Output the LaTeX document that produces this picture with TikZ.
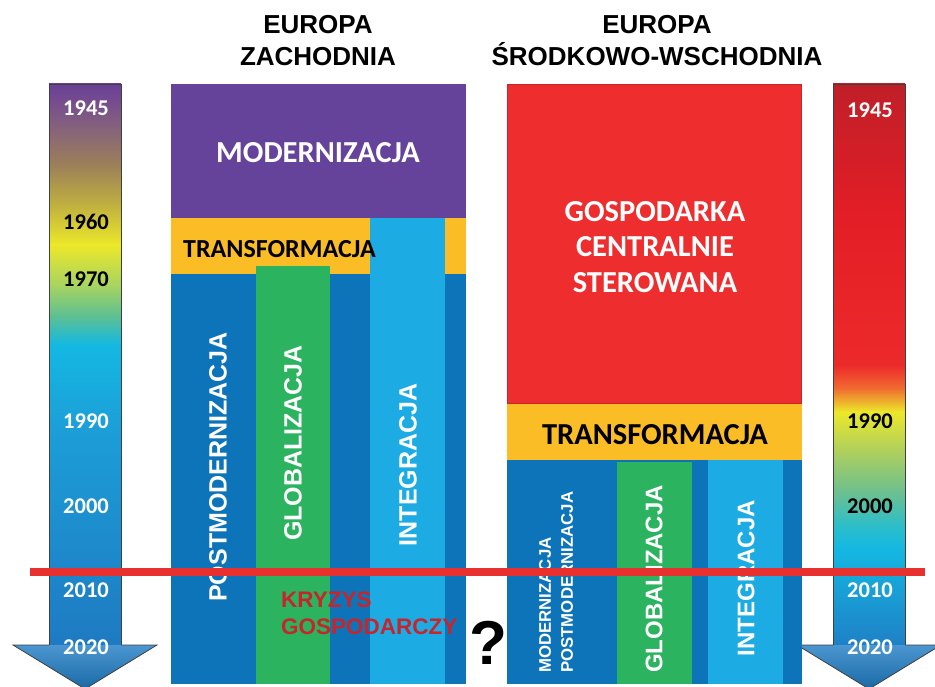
\documentclass[tikz,border=0pt]{standalone}
\usepackage{fontspec}
\setmainfont{Liberation Sans}
\newfontfamily\calfont{Carlito}
\definecolor{modpurple}{HTML}{66439A}
\definecolor{trayellow}{HTML}{FBBD26}
\definecolor{darkblue}{HTML}{0E74BA}
\definecolor{globgreen}{HTML}{2BB35F}
\definecolor{intblue}{HTML}{1CACE3}
\definecolor{planred}{HTML}{EE2E2E}
\definecolor{planborder}{HTML}{C4262A}
\definecolor{crisisred}{HTML}{C8242A}
\definecolor{lineRed}{HTML}{E8302E}
\definecolor{headblue}{HTML}{1E7CC4}
\definecolor{ls0}{HTML}{6A3F98}
\definecolor{ls1}{HTML}{84607E}
\definecolor{ls2}{HTML}{9C8058}
\definecolor{ls3}{HTML}{C0B040}
\definecolor{ls4}{HTML}{ECE82A}
\definecolor{ls5}{HTML}{A8D460}
\definecolor{ls6}{HTML}{60C090}
\definecolor{ls7}{HTML}{14B8E2}
\definecolor{ls8}{HTML}{1C9ED8}
\definecolor{ls9}{HTML}{1E7AC2}
\definecolor{rs0}{HTML}{C01F28}
\definecolor{rs1}{HTML}{E41E26}
\definecolor{rs2}{HTML}{EC2A2A}
\definecolor{rs3}{HTML}{F06A30}
\definecolor{rs4}{HTML}{ECE82A}
\definecolor{rs5}{HTML}{B0D05C}
\definecolor{rs6}{HTML}{70C08C}
\definecolor{rs7}{HTML}{2EBEC8}
\definecolor{rs8}{HTML}{14B8E2}
\definecolor{rs9}{HTML}{1E80C6}
\tikzset{
  year/.style={inner sep=0, font=\calfont\bfseries\fontsize{22.5}{22.5}\selectfont},
  bandtext/.style={inner sep=0, font=\calfont\bfseries\fontsize{30.5}{35.5}\selectfont},
  vlabel/.style={inner sep=0, rotate=90, text=white, font=\bfseries\fontsize{25}{25}\selectfont},
  title/.style={inner sep=0, align=center, font=\bfseries\fontsize{26}{32}\selectfont},
  arrowline/.style={draw=black!75, line width=0.8pt}
}
\begin{document}
\begin{tikzpicture}[x=1pt, y=-1pt]
\useasboundingbox (0,0) rectangle (935,687);

% time arrows
\foreach \ya/\yb/\ca/\cb in {84/125/ls0/ls1, 125/165/ls1/ls2, 165/205/ls2/ls3, 205/245/ls3/ls4, 245/285/ls4/ls5,
    285/315/ls5/ls6, 315/345/ls6/ls7, 345/430/ls7/ls8, 430/646/ls8/ls9}
  \shade[top color=\ca, bottom color=\cb] (49,\ya) rectangle (121,\yb);
\foreach \ya/\yb/\ca/\cb in {84/220/rs0/rs1, 220/365/rs1/rs2, 365/388/rs2/rs3, 388/412/rs3/rs4, 412/450/rs4/rs5,
    450/490/rs5/rs6, 490/525/rs6/rs7, 525/548/rs7/rs8, 548/646/rs8/rs9}
  \shade[top color=\ca, bottom color=\cb] (833,\ya) rectangle (905,\yb);
\draw[arrowline, top color=headblue!80!white, bottom color=headblue!85!black]
  (49,645) -- (13,645) -- (85,689) -- (157,645) -- (121,645);
\draw[arrowline] (49,645) -- (49,84) -- (121,84) -- (121,645);
\draw[arrowline, top color=headblue!80!white, bottom color=headblue!85!black]
  (833,645) -- (797,645) -- (869,689) -- (941,645) -- (905,645);
\draw[arrowline] (833,645) -- (833,84) -- (905,84) -- (905,645);

\foreach \yr/\yy/\col in {1945/108/white, 1960/222/black, 1970/279/black, 1990/421/white,
    2000/506/white, 2010/590/white, 2020/647/white}
  \node[year, text=\col] (l\yr) at (86,\yy) {\yr};
\foreach \yr/\yy/\col in {1945/110/white, 1990/421/black, 2000/506/black, 2010/590/white, 2020/647/white}
  \node[year, text=\col] (r\yr) at (870,\yy) {\yr};

% Europa Zachodnia
\node[title] (west) at (318,41) {EUROPA\\ZACHODNIA};
\fill[modpurple] (171,84) rectangle (466,218);
\fill[trayellow] (171,218) rectangle (466,274);
\fill[darkblue] (171,274) rectangle (466,684);
\fill[globgreen] (256,266) rectangle (330,684);
\fill[intblue] (370,218) rectangle (445,684);
\node[bandtext, text=white] (wmod) at (318,153) {MODERNIZACJA};
\node[bandtext, text=black, anchor=west, font=\calfont\bfseries\fontsize{26}{26}\selectfont] (wtrans) at (183,249) {TRANSFORMACJA};
\node[vlabel] (wpost) at (218,467) {POSTMODERNIZACJA};
\node[vlabel] (wglob) at (293,443) {GLOBALIZACJA};
\node[vlabel] (wint) at (408,465) {INTEGRACJA};
\node[inner sep=0, anchor=west, align=left, text=crisisred, font=\bfseries\fontsize{22.5}{27}\selectfont] (crisis) at (281,613) {KRYZYS\\GOSPODARCZY};
\node[inner sep=0, font=\bfseries\fontsize{62}{62}\selectfont] (quest) at (488,643) {?};

% Europa Srodkowo-Wschodnia
\node[title] (east) at (657,41) {EUROPA\\ŚRODKOWO-WSCHODNIA};
\fill[planred, draw=planborder, line width=1.2pt] (507.6,84.6) rectangle (801.4,404);
\fill[trayellow] (507,404) rectangle (802,460);
\fill[darkblue] (507,460) rectangle (802,684);
\fill[globgreen] (617,462) rectangle (692,684);
\fill[intblue] (708,460) rectangle (783,684);
\node[bandtext, text=white, align=center] (plan) at (655,247) {GOSPODARKA\\CENTRALNIE\\STEROWANA};
\node[bandtext, text=black] (etrans) at (655,435) {TRANSFORMACJA};
\node[vlabel, anchor=west, align=left, font=\bfseries\fontsize{16.8}{22}\selectfont] (emod) at (556,673) {MODERNIZACJA\\POSTMODERNIZACJA};
\node[vlabel, font=\bfseries\fontsize{24}{24}\selectfont] (eglob) at (654,579) {GLOBALIZACJA};
\node[vlabel, font=\bfseries\fontsize{24}{24}\selectfont] (eint) at (746,578) {INTEGRACJA};

% 2008
\coordinate (crisisL) at (30,572);
\coordinate (crisisR) at (925,572);
\draw[lineRed, line width=8pt] (crisisL) -- (crisisR);
\end{tikzpicture}
\end{document}
